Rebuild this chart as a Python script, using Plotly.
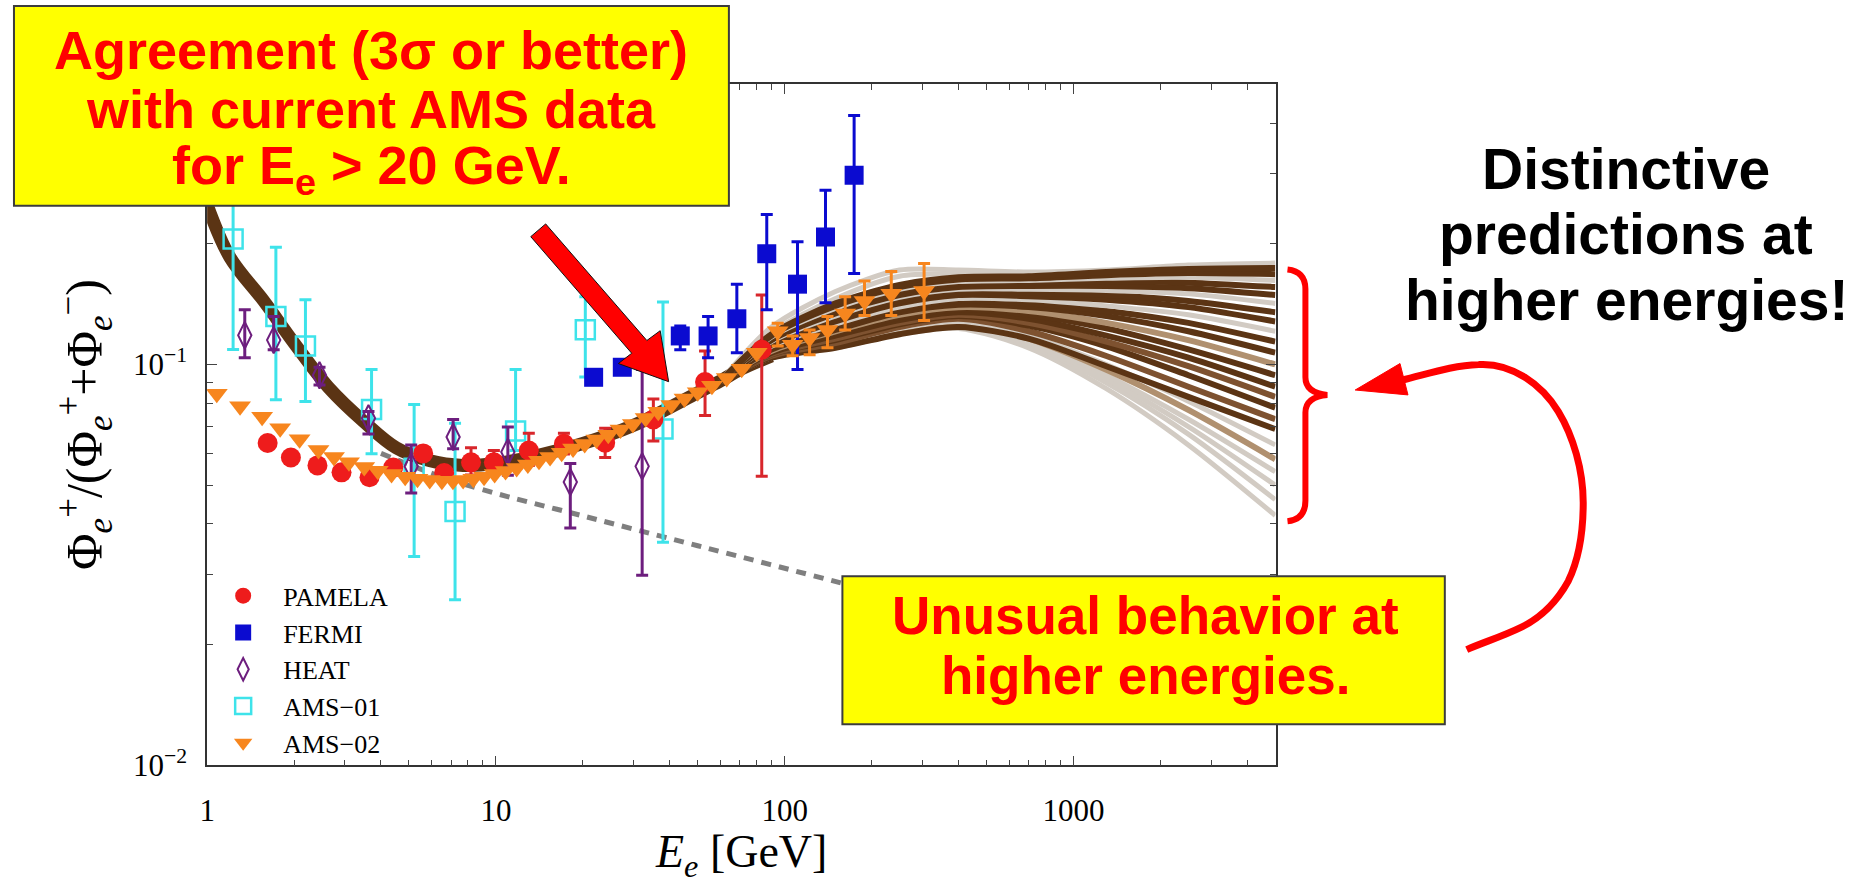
import math
import plotly.graph_objects as go

W, H = 1867, 896

# ---------------- data ----------------
pamela_E = [1.62, 1.95, 2.41, 2.92, 3.65, 4.41, 5.6, 6.62, 8.2, 9.84, 13.0, 17.2, 23.9, 35.1, 53.0, 83.3]
pamela_y = [0.0637, 0.0586, 0.0560, 0.0538, 0.0523, 0.0553, 0.0600, 0.0536, 0.0570, 0.0570, 0.0610, 0.0634, 0.0638, 0.0729, 0.0904, 0.1088]
pamela_hi = [0.0650, 0.0598, 0.0571, 0.0548, 0.0533, 0.0564, 0.0612, 0.0546, 0.0620, 0.0610, 0.0674, 0.0674, 0.0693, 0.0820, 0.1080, 0.1490]
pamela_lo = [0.0624, 0.0574, 0.0549, 0.0528, 0.0513, 0.0542, 0.0588, 0.0526, 0.0530, 0.0535, 0.0560, 0.0598, 0.0586, 0.0644, 0.0746, 0.0526]

fermi_E = [21.8, 27.4, 43.5, 54.3, 68.3, 86.7, 110.8, 138.5, 174.0]
fermi_y = [0.0929, 0.0984, 0.1178, 0.1178, 0.1300, 0.1889, 0.1586, 0.2080, 0.2963]
fermi_hi = [0.0965, 0.1020, 0.1247, 0.1318, 0.1586, 0.2366, 0.2023, 0.2722, 0.4180]
fermi_lo = [0.0895, 0.0950, 0.1088, 0.1040, 0.1070, 0.1370, 0.0972, 0.1425, 0.1686]

heat_E = [1.35, 1.70, 2.45, 3.62, 5.09, 7.11, 11.0, 18.1, 32.1]
heat_y = [0.1183, 0.1150, 0.0940, 0.0734, 0.0557, 0.0659, 0.0605, 0.0509, 0.0557]
heat_hi = [0.1370, 0.1318, 0.0984, 0.0763, 0.0630, 0.0729, 0.0698, 0.0566, 0.0972]
heat_lo = [0.1040, 0.1088, 0.0889, 0.0671, 0.0478, 0.0616, 0.0529, 0.0391, 0.0298]

ams01_E = [1.23, 1.73, 2.19, 3.71, 5.21, 7.22, 11.7, 20.4, 37.9]
ams01_y = [0.2056, 0.1318, 0.1112, 0.0772, 0.0551, 0.0430, 0.0682, 0.1220, 0.0690]
ams01_hi = [0.3300, 0.1960, 0.1450, 0.0972, 0.0794, 0.0713, 0.0972, 0.1476, 0.1432]
ams01_lo = [0.1090, 0.0816, 0.0808, 0.0599, 0.0332, 0.0259, 0.0610, 0.0930, 0.0360]

ams02_E = [1.08, 1.30, 1.55, 1.79, 2.09, 2.43, 2.75, 3.1, 3.5, 3.9, 4.35, 4.85, 5.35, 5.9, 6.5,
           7.1, 7.7, 8.35, 9.1, 9.9, 10.8, 11.8, 12.9, 14.1, 15.4, 16.9, 18.5, 20.3, 22.3, 24.5,
           27.0, 29.8, 33.0, 36.5, 40.5, 45.0, 50.0, 56.0, 63.0, 71.0, 80.0,
           94.6, 106.6, 122.0, 140.7, 162.0, 189.0, 234.0, 304.0]
ams02_y = [0.0845, 0.0786, 0.0741, 0.0693, 0.0651, 0.0612, 0.0588, 0.0570, 0.0555, 0.0543, 0.0533,
           0.0525, 0.0519, 0.0515, 0.0513, 0.0513, 0.0515, 0.0519, 0.0525, 0.0533, 0.0542, 0.0552,
           0.0563, 0.0575, 0.0588, 0.0602, 0.0617, 0.0633, 0.0650, 0.0668, 0.0688, 0.0710, 0.0735,
           0.0762, 0.0792, 0.0822, 0.0853, 0.0885, 0.0925, 0.0975, 0.1070,
           0.1210, 0.1120, 0.1164, 0.1219, 0.1340, 0.1440, 0.1500, 0.1525]
ams02_hi = [None] * 41 + [0.1267, 0.1177, 0.1218, 0.1318, 0.1476, 0.1615, 0.1706, 0.1786]
ams02_lo = [None] * 41 + [0.1112, 0.1052, 0.1057, 0.1100, 0.1218, 0.1324, 0.1324, 0.1288]

# common low-energy part of the model band
band_E = [1.0, 1.2, 1.57, 2.04, 2.66, 3.48, 4.52, 5.87, 7.7, 10.0, 13.0, 20.0, 30.0, 50.0, 60.0, 70.0, 90.0]
band_y = [0.250, 0.185, 0.144, 0.111, 0.0869, 0.0721, 0.0619, 0.0576, 0.0560, 0.0566, 0.0586,
          0.0635, 0.0705, 0.0850, 0.0910, 0.0970, 0.1050]

# model curves fanning out at high energy
fan_E = [60, 90, 150, 250, 400, 700, 1300, 2500, 5000]
fan_curves = [
    ("light", [0.091, 0.124, 0.152, 0.172, 0.172, 0.170, 0.172, 0.177, 0.179]),
    ("light", [0.091, 0.120, 0.146, 0.166, 0.168, 0.167, 0.170, 0.175, 0.177]),
    ("light", [0.091, 0.104, 0.110, 0.119, 0.123, 0.110, 0.087, 0.063, 0.042]),
    ("light", [0.091, 0.104, 0.111, 0.120, 0.124, 0.112, 0.090, 0.067, 0.046]),
    ("light", [0.091, 0.104, 0.111, 0.120, 0.125, 0.113, 0.092, 0.070, 0.050]),
    ("light", [0.091, 0.105, 0.112, 0.121, 0.126, 0.115, 0.094, 0.073, 0.054]),
    ("tan",   [0.091, 0.105, 0.112, 0.122, 0.127, 0.116, 0.097, 0.077, 0.058]),
    ("light", [0.091, 0.105, 0.113, 0.123, 0.128, 0.118, 0.100, 0.081, 0.063]),
    ("dark",  [0.091, 0.104, 0.110, 0.119, 0.124, 0.116, 0.099, 0.083, 0.069]),
    ("mid",   [0.091, 0.105, 0.113, 0.124, 0.130, 0.121, 0.105, 0.088, 0.073]),
    ("dark",  [0.091, 0.106, 0.115, 0.126, 0.132, 0.125, 0.111, 0.094, 0.078]),
    ("mid",   [0.091, 0.106, 0.116, 0.127, 0.133, 0.127, 0.114, 0.099, 0.083]),
    ("dark",  [0.091, 0.107, 0.118, 0.129, 0.135, 0.130, 0.118, 0.104, 0.088]),
    ("dark",  [0.091, 0.108, 0.119, 0.131, 0.137, 0.133, 0.123, 0.109, 0.094]),
    ("tan",   [0.091, 0.108, 0.121, 0.133, 0.139, 0.136, 0.127, 0.115, 0.100]),
    ("dark",  [0.091, 0.109, 0.122, 0.135, 0.141, 0.139, 0.132, 0.121, 0.107]),
    ("dark",  [0.091, 0.110, 0.124, 0.137, 0.144, 0.142, 0.136, 0.127, 0.114]),
    ("light", [0.091, 0.111, 0.126, 0.139, 0.146, 0.145, 0.140, 0.133, 0.121]),
    ("dark",  [0.091, 0.112, 0.128, 0.142, 0.149, 0.148, 0.145, 0.139, 0.128]),
    ("dark",  [0.091, 0.113, 0.130, 0.144, 0.151, 0.151, 0.149, 0.144, 0.135]),
    ("light", [0.091, 0.114, 0.132, 0.147, 0.154, 0.154, 0.153, 0.150, 0.142]),
    ("dark",  [0.091, 0.115, 0.134, 0.149, 0.156, 0.157, 0.157, 0.155, 0.149]),
    ("dark",  [0.091, 0.116, 0.136, 0.152, 0.159, 0.160, 0.161, 0.160, 0.156]),
    ("light", [0.091, 0.117, 0.138, 0.154, 0.161, 0.162, 0.164, 0.165, 0.162]),
    ("dark",  [0.091, 0.118, 0.140, 0.156, 0.163, 0.164, 0.167, 0.169, 0.168]),
    ("dark",  [0.091, 0.119, 0.142, 0.158, 0.165, 0.166, 0.170, 0.173, 0.174]),
]

# secondary-only background (dashed)
bg_E = [4, 6, 9, 20, 50, 157, 400, 1000, 2000]
bg_y = [0.0600, 0.0535, 0.0487, 0.0419, 0.0353, 0.0285, 0.0239, 0.0202, 0.0178]

x_ticks = [1, 10, 100, 1000]
x_ticktext = ["1", "10", "100", "1000"]
y_ticks = [0.01, 0.1]
y_ticktext = ["10<sup>\u22122</sup>", "10<sup>\u22121</sup>"]

# ---------------- styles ----------------
DARK = "#5b3414"
COLORS = {"dark": DARK, "mid": "#7e5230", "tan": "#b0906f", "light": "#d2cbc3"}
RED = "#ee1c1c"
BLUE = "#0b0bd0"
PURPLE = "#6d1e7e"
CYAN = "#3ee3ea"
ORANGE = "#f7861e"
SERIF = "Liberation Serif"
SANS = "Liberation Sans"


def errs(y, hi, lo):
    plus = [None if h is None else h - v for v, h in zip(y, hi)]
    minus = [None if l is None else v - l for v, l in zip(y, lo)]
    return plus, minus


fig = go.Figure()

fig.add_trace(go.Scatter(x=band_E, y=band_y, mode="lines", line=dict(color=DARK, width=13, shape="spline"),
                         showlegend=False, hoverinfo="skip"))
for kind, vals in fan_curves:
    fig.add_trace(go.Scatter(x=fan_E, y=vals, mode="lines",
                             line=dict(color=COLORS[kind], width=6 if kind != "light" else 5,
                                       shape="spline", smoothing=0.8),
                             showlegend=False, hoverinfo="skip"))

fig.add_trace(go.Scatter(x=bg_E, y=bg_y, mode="lines",
                         line=dict(color="#7f7f7f", width=5, dash="10px,8px", shape="spline"),
                         showlegend=False, hoverinfo="skip"))


def data_trace(name, E, y, hi, lo, color, symbol, size, rank, lw=0, ecolor=None):
    p, m = errs(y, hi, lo)
    return go.Scatter(
        x=E, y=y, mode="markers", name=name, legendrank=rank,
        marker=dict(color=color, symbol=symbol, size=size, line=dict(width=lw, color=color)),
        error_y=dict(type="data", array=p, arrayminus=m, visible=True, color=ecolor or color,
                     thickness=3, width=6),
    )


fig.add_trace(data_trace("AMS\u221201", ams01_E, ams01_y, ams01_hi, ams01_lo, CYAN, "square-open", 19, 4, lw=2.5))
fig.add_trace(data_trace("HEAT", heat_E, heat_y, heat_hi, heat_lo, PURPLE, "diamond-tall-open", 19, 3, lw=2))
fig.add_trace(data_trace("PAMELA", pamela_E, pamela_y, pamela_hi, pamela_lo, RED, "circle", 20, 1, ecolor="#d8262b"))
fig.add_trace(data_trace("FERMI", fermi_E, fermi_y, fermi_hi, fermi_lo, BLUE, "square", 19, 2))
fig.add_trace(data_trace("AMS\u221202", ams02_E, ams02_y, ams02_hi, ams02_lo, ORANGE, "triangle-down", 19, 5))

# ---------------- axes ----------------
x_minor = [m * 10 ** k for k in range(0, 4) for m in range(2, 10) if m * 10 ** k <= 5000]
y_minor = [m / 100 for m in range(2, 10)] + [m / 10 for m in range(2, 6)]

axis_common = dict(type="log", showgrid=False, zeroline=False, showline=True, linecolor="#333",
                   linewidth=1.5, mirror="allticks", ticks="inside", ticklen=10, tickwidth=1.2,
                   tickcolor="#444", tickfont=dict(family=SERIF, size=31, color="black"))

fig.update_layout(
    width=W, height=H, margin=dict(l=0, r=0, t=0, b=0),
    paper_bgcolor="white", plot_bgcolor="white",
    xaxis=dict(axis_common, range=[0, 3.7], domain=[200 / W, 1273 / W],
               tickvals=x_ticks, ticktext=x_ticktext, ticklabelstandoff=17,
               minor=dict(tickvals=x_minor, ticks="inside", ticklen=6, tickwidth=1, tickcolor="#444",
                          showgrid=False)),
    yaxis=dict(axis_common, range=[-2, math.log10(0.5)], domain=[1 - 781 / H, 1 - 86 / H],
               tickvals=y_ticks, ticktext=y_ticktext, ticklabelstandoff=12,
               minor=dict(tickvals=y_minor, ticks="inside", ticklen=6, tickwidth=1, tickcolor="#444",
                          showgrid=False)),
    showlegend=True,
    legend=dict(x=196 / W, y=1 - 584 / H, xanchor="left", yanchor="top",
                bgcolor="rgba(0,0,0,0)", font=dict(family=SERIF, size=26, color="black"),
                itemsizing="trace", itemwidth=70, tracegroupgap=0),
)


def P(x, y):
    return f"{x / W:.5f},{1 - y / H:.5f}"


shapes = []
# yellow boxes
shapes.append(dict(type="rect", xref="paper", yref="paper", x0=6 / W, x1=724 / W, y0=1 - 210 / H, y1=1 - 6 / H,
                   fillcolor="#ffff00", line=dict(color="#3c3c3c", width=2), layer="above"))
shapes.append(dict(type="rect", xref="paper", yref="paper", x0=838 / W, x1=1443 / W, y0=1 - 739 / H, y1=1 - 588 / H,
                   fillcolor="#ffff00", line=dict(color="#3c3c3c", width=2), layer="above"))
# big red arrow
arrow_pts = [(525, 241.5), (540, 228.5), (641.6, 347.5), (655, 337.5), (663.5, 389.5), (613, 371), (626.4, 360.5)]
shapes.append(dict(type="path", xref="paper", yref="paper",
                   path="M " + " L ".join(P(*p) for p in arrow_pts) + " Z",
                   fillcolor="#ff0000", line=dict(color="#111", width=1), layer="above"))
# curly bracket
shapes.append(dict(type="path", xref="paper", yref="paper",
                   path=(f"M {P(1285, 275)} Q {P(1303, 277)} {P(1303, 295)} L {P(1303, 385)} "
                         f"Q {P(1303, 401)} {P(1325, 403)} Q {P(1303, 405)} {P(1303, 421)} "
                         f"L {P(1303, 511)} Q {P(1303, 530)} {P(1285, 532)}"),
                   line=dict(color="#ff0000", width=6), layer="above"))
# curved arrow
shapes.append(dict(type="path", xref="paper", yref="paper",
                   path=(f"M {P(1400, 388)} C {P(1425, 382)} {P(1450, 373)} {P(1477, 372)} "
                         f"C {P(1510, 370)} {P(1540, 392)} {P(1557, 420)} "
                         f"C {P(1572, 445)} {P(1582, 480)} {P(1582, 513)} "
                         f"C {P(1582, 545)} {P(1578, 570)} {P(1567, 593)} "
                         f"C {P(1555, 615)} {P(1540, 630)} {P(1520, 640)} "
                         f"C {P(1500, 650)} {P(1480, 656)} {P(1465, 663)}"),
                   line=dict(color="#ff0000", width=7), layer="above"))
shapes.append(dict(type="path", xref="paper", yref="paper",
                   path=f"M {P(1353, 398)} L {P(1398, 371)} L {P(1406, 403)} Z",
                   fillcolor="#ff0000", line=dict(color="#ff0000", width=1), layer="above"))
fig.update_layout(shapes=shapes)


def ann(text, x, y, size, color, family=SANS, angle=0):
    return dict(text=text, x=x / W, y=1 - y / H, xref="paper", yref="paper", showarrow=False,
                xanchor="center", yanchor="middle", textangle=angle,
                font=dict(family=family, size=size, color=color))


annotations = [
    ann("<b>Agreement (3\u03c3 or better)</b>", 365, 51, 54, "#ff0000"),
    ann("<b>with current AMS data</b>", 365, 111, 54, "#ff0000"),
    ann("<b>for E<sub>e</sub> &gt; 20 GeV.</b>", 365, 172, 54, "#ff0000"),
    ann("<b>Unusual behavior at</b>", 1142, 628, 53, "#ff0000"),
    ann("<b>higher energies.</b>", 1142, 689, 53, "#ff0000"),
    ann("<b>Distinctive</b>", 1625, 172, 57, "black"),
    ann("<b>predictions at</b>", 1625, 239, 57, "black"),
    ann("<b>higher energies!</b>", 1625, 306, 57, "black"),
    ann("\u03a6<sub><i>e</i></sub><sup>+</sup>/(\u03a6<sub><i>e</i></sub><sup>+</sup>+\u03a6<sub><i>e</i></sub><sup>\u2212</sup>)",
        77, 433, 50, "black", family=SERIF, angle=-90),
    ann("<i>E<sub>e</sub></i> [GeV]", 736, 873, 46, "black", family=SERIF),
]
fig.update_layout(annotations=annotations)

fig.write_html("out.html")
